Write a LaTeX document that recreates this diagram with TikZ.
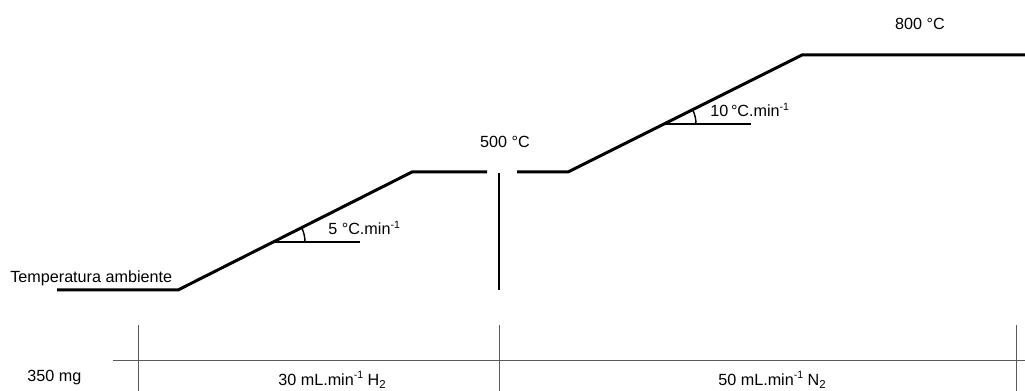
\documentclass[tikz,border=0pt]{standalone}
\usepackage{fontspec}
\setmainfont{Liberation Sans}
\usepackage{tikz}
\usetikzlibrary{positioning}
\newcommand{\minexp}{\raisebox{0.75ex}{\fontsize{6}{6}\selectfont -1}}
\newcommand{\gasidx}[1]{\raisebox{-0.35ex}{\fontsize{6.5}{6.5}\selectfont #1}}

\tikzset{
  profile/.style={line width=1.7pt, line join=miter},
  gridline/.style={line width=0.45pt, draw=black!65},
  anglemark/.style={line width=0.8pt},
  lbl/.style={inner sep=0pt, font=\fontsize{9.2}{11}\selectfont}
}

\begin{document}
\begin{tikzpicture}[x=0.02cm, y=0.02cm]
\useasboundingbox (0,0) rectangle (1025,391);
% temperature profile
\coordinate (amb) at (57,101);
\coordinate (ramp1s) at (178,101);
\coordinate (ramp1e) at (412,219);
\coordinate (hold1e) at (487,219);
\coordinate (cuttop) at (499,218);
\coordinate (cutbot) at (499,101);
\coordinate (hold2s) at (517,219);
\coordinate (ramp2s) at (568,219);
\coordinate (ramp2e) at (802,336);
\coordinate (hold2e) at (1025,336);
\draw[profile] (amb) -- (ramp1s) -- (ramp1e) -- (hold1e);
\draw[profile] (hold2s) -- (ramp2s) -- (ramp2e) -- (hold2e);
\draw[line width=1.4pt] (cuttop) -- (cutbot);

\node[lbl, anchor=west] (tamb) at (10,113) {Temperatura ambiente};
\node[lbl] (t500) at (505,249) {500 °C};
\node[lbl] (t800) at (920,367) {800 °C};

% heating rates
\coordinate (a1) at (273,149);
\coordinate (a1h) at (360,149);
\draw[anglemark] (a1) -- (a1h);
\draw[anglemark] ([shift={(32,0)}]a1) arc[start angle=0, end angle=26.8, radius=0.64cm];
\node[lbl, anchor=west] (rate1) at (328,163) {5 °C.min\minexp};

\coordinate (a2) at (664,267);
\coordinate (a2h) at (751,267);
\draw[anglemark] (a2) -- (a2h);
\draw[anglemark] ([shift={(32,0)}]a2) arc[start angle=0, end angle=26.6, radius=0.64cm];
\node[lbl, anchor=west] (rate2) at (710,281) {10\,°C.min\minexp};

% gas table
\coordinate (rowl) at (113,31);
\coordinate (rowr) at (1025,31);
\draw[gridline] (rowl) -- (rowr);
\foreach \gx [count=\gi] in {138,499,1016} {
  \coordinate (col\gi t) at (\gx,66);
  \coordinate (col\gi b) at (\gx,0);
  \draw[gridline] (col\gi t) -- (col\gi b);
}

\node[lbl, anchor=west] (mass) at (27,13) {350 mg};
\node[lbl, anchor=west] (gas1) at (278,11) {30 mL.min\minexp{} H\gasidx{2}};
\node[lbl, anchor=west] (gas2) at (718,11) {50 mL.min\minexp{} N\gasidx{2}};
\end{tikzpicture}
\end{document}
